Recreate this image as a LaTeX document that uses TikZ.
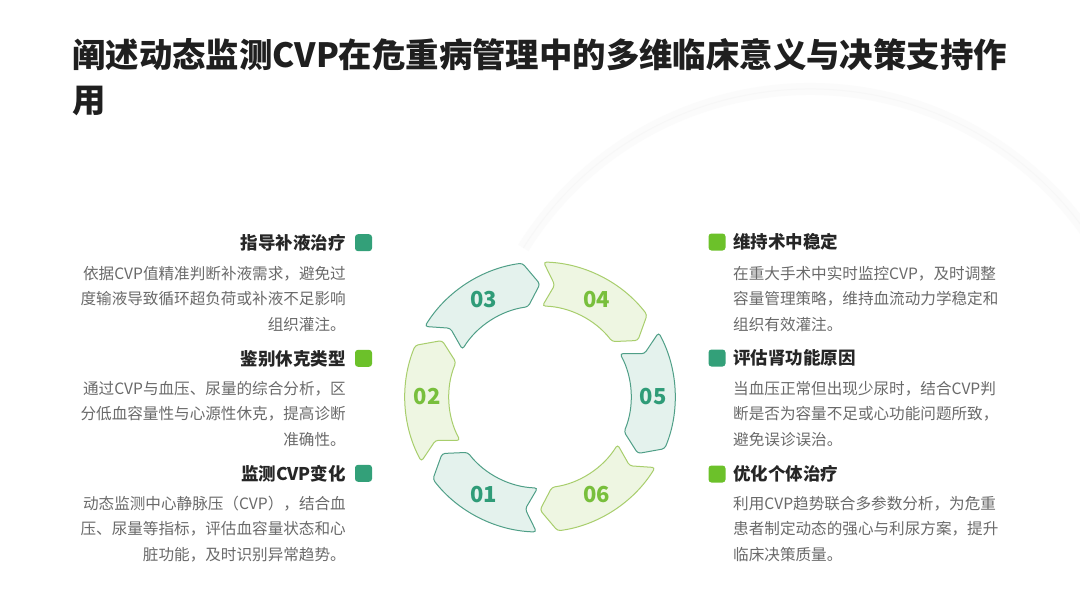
\documentclass[tikz,border=0pt]{standalone}
\usepackage{fontspec}
\setmainfont{Noto Sans CJK SC}
\definecolor{titlec}{HTML}{1F1F1F}
\definecolor{headc}{HTML}{262626}
\definecolor{bodyc}{HTML}{6A6A6A}
\definecolor{tealline}{HTML}{4F9F87}
\definecolor{tealfill}{HTML}{E4F2ED}
\definecolor{tealnumc}{HTML}{2F9C78}
\definecolor{greenline}{HTML}{A8CE6C}
\definecolor{greenfill}{HTML}{EEF6E2}
\definecolor{greennumc}{HTML}{78BF3C}
\definecolor{tealmark}{HTML}{33A079}
\definecolor{greenmark}{HTML}{6CC12A}
\begin{document}
\begin{tikzpicture}[x=1pt,y=-1pt,
  segt/.style={draw=tealline,fill=tealfill,line width=1pt,rounded corners=3pt},
  segg/.style={draw=greenline,fill=greenfill,line width=1pt,rounded corners=3pt},
  numt/.style={text=tealnumc,font=\fontsize{22}{22}\selectfont\bfseries,inner sep=0},
  numg/.style={text=greennumc,font=\fontsize{22}{22}\selectfont\bfseries,inner sep=0},
  headtext/.style={text=headc,font=\fontsize{17.5}{20}\selectfont\bfseries,inner sep=0},
  bodytext/.style={text=bodyc,font=\fontsize{15.6}{25.5}\selectfont,inner sep=0},
  markt/.style={fill=tealmark,rounded corners=3pt,minimum size=17pt,inner sep=0},
  markg/.style={fill=greenmark,rounded corners=3pt,minimum size=17pt,inner sep=0}]
\useasboundingbox (0,0) rectangle (1080,608);
\fill[white] (0,0) rectangle (1080,608);
% faint background ring
\begin{scope}
\clip (0,0) rectangle (1080,608);
\draw[black!1.5,line width=12pt] (810,427) ++(148:338pt) arc[start angle=148,end angle=5,radius=338pt];
\draw[black!3,line width=1pt] (810,427) ++(148:338pt) arc[start angle=148,end angle=5,radius=338pt];
\end{scope}
% title
\node[anchor=base west,inner sep=0,text=titlec,font=\fontsize{33.4}{45}\selectfont\bfseries] (title) at (72,67.5)
  {\parbox[t]{1000pt}{\raggedright 阐述动态监测CVP在危重病管理中的多维临床意义与决策支持作\\用}};
% cycle
\begin{scope}[shift={(540,397)}]
\foreach \cc/\kk/\num in {240/t/01,180/g/02,120/t/03,60/g/04,0/t/05,-60/g/06}{
  \pgfmathsetmacro\ta{\cc+28.5}
  \pgfmathsetmacro\tb{\cc+22.5}
  \pgfmathsetmacro\la{\cc-22.5}
  \pgfmathsetmacro\lb{\cc-30}
  \draw[seg\kk] (\ta:135pt) arc[start angle=\ta,end angle=\la,radius=135pt]
     -- (\lb:113pt) -- (\la:91pt)
     arc[start angle=\la,end angle=\ta,radius=91pt] -- (\tb:113pt) -- cycle;
  \node[num\kk] (n\num) at (\cc:113pt) {\num};
}
\end{scope}
% left column
\node[markt] (m1) at (363.5,242.7) {};
\node[headtext,anchor=base east] (h1) at (346,249.4) {指导补液治疗};
\node[bodytext,anchor=base east] (b1) at (346,279.3) {\parbox[t]{300pt}{\raggedleft 依据CVP值精准判断补液需求，避免过\\度输液导致循环超负荷或补液不足影响\\组织灌注。}};
\node[markg] (m2) at (363.5,358.3) {};
\node[headtext,anchor=base east] (h2) at (346,365) {鉴别休克类型};
\node[bodytext,anchor=base east] (b2) at (346,394.3) {\parbox[t]{300pt}{\raggedleft 通过CVP与血压、尿量的综合分析，区\\分低血容量性与心源性休克，提高诊断\\准确性。}};
\node[markt] (m3) at (363.5,473.3) {};
\node[headtext,anchor=base east] (h3) at (346,480) {监测CVP变化};
\node[bodytext,anchor=base east] (b3) at (346,509.3) {\parbox[t]{300pt}{\raggedleft 动态监测中心静脉压（CVP），结合血\\压、尿量等指标，评估血容量状态和心\\脏功能，及时识别异常趋势。}};
% right column
\node[markg] (m4) at (717,242) {};
\node[headtext,anchor=base west] (h4) at (733,248.7) {维持术中稳定};
\node[bodytext,anchor=base west] (b4) at (733,279.3) {\parbox[t]{300pt}{\raggedright 在重大手术中实时监控CVP，及时调整\\容量管理策略，维持血流动力学稳定和\\组织有效灌注。}};
\node[markt] (m5) at (717,358) {};
\node[headtext,anchor=base west] (h5) at (733,364.7) {评估肾功能原因};
\node[bodytext,anchor=base west] (b5) at (733,394.3) {\parbox[t]{300pt}{\raggedright 当血压正常但出现少尿时，结合CVP判\\断是否为容量不足或心功能问题所致，\\避免误诊误治。}};
\node[markg] (m6) at (717,474) {};
\node[headtext,anchor=base west] (h6) at (733,480.7) {优化个体治疗};
\node[bodytext,anchor=base west] (b6) at (733,509.3) {\parbox[t]{300pt}{\raggedright 利用CVP趋势联合多参数分析，为危重\\患者制定动态的强心与利尿方案，提升\\临床决策质量。}};
\end{tikzpicture}
\end{document}
